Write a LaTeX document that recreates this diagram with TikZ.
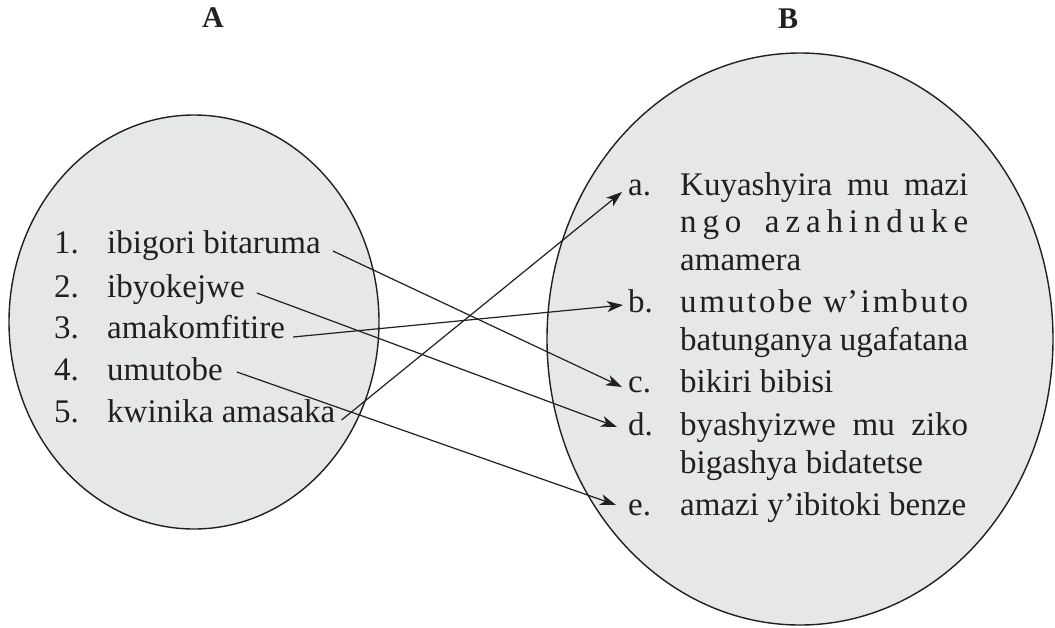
\documentclass[tikz,border=0pt]{standalone}
\usepackage{fontspec}
\setmainfont{Liberation Serif}
\usetikzlibrary{arrows.meta}
\definecolor{fillgray}{HTML}{E6E7E8}
\definecolor{ink}{HTML}{231F20}
\begin{document}
\begin{tikzpicture}[x=1pt,y=-1pt,
  setshape/.style={fill=fillgray,draw=ink,line width=1.4pt},
  item/.style={anchor=base west,inner sep=0pt,font=\fontsize{33}{39}\selectfont,text=ink},
  head/.style={anchor=center,inner sep=0pt,font=\fontsize{30}{36}\selectfont\bfseries,text=ink},
  link/.style={draw=ink,line width=1.2pt,-{Stealth[length=16pt,width=11pt,inset=4.5pt]}}]
\useasboundingbox (0,0) rectangle (1055,627);
% sets
\path[setshape] (194,322) ellipse [x radius=185pt, y radius=207pt];
\path[setshape] (800,339) ellipse [x radius=253pt, y radius=286pt];
% headings
\node[head] (hA) at (213,18) {A};
\node[head] (hB) at (788,19) {B};
% column A
\node[item] (n1) at (54,253) {1.};
\node[item] (t1) at (107,253) {ibigori bitaruma};
\node[item] (n2) at (54,297) {2.};
\node[item] (t2) at (107,297) {ibyokejwe};
\node[item] (n3) at (54,338) {3.};
\node[item] (t3) at (107,338) {amakomfitire};
\node[item] (n4) at (54,380) {4.};
\node[item] (t4) at (107,380) {umutobe};
\node[item] (n5) at (54,422) {5.};
\node[item] (t5) at (107,422) {kwinika amasaka};
% column B
\node[item] (la) at (628,195) {a.};
\node[item] (ta1) at (680,195) {\makebox[288pt][s]{Kuyashyira mu mazi}};
\node[item] (ta2) at (680,232) {\makebox[288pt][s]{n\hfil g\hfil o\hfil\hfil\hfil\hfil a\hfil z\hfil a\hfil h\hfil i\hfil n\hfil d\hfil u\hfil k\hfil e}};
\node[item] (ta3) at (680,270) {amamera};
\node[item] (lb) at (628,312) {b.};
\node[item] (tb1) at (680,312) {\makebox[288pt][s]{u\hfil m\hfil u\hfil t\hfil o\hfil b\hfil e\hfil\hfil\hfil\hfil w’\hfil i\hfil m\hfil b\hfil u\hfil t\hfil o}};
\node[item] (tb2) at (680,350) {\makebox[288pt][s]{batunganya ugafatana}};
\node[item] (lc) at (628,392) {c.};
\node[item] (tc) at (680,392) {bikiri bibisi};
\node[item] (ld) at (628,435) {d.};
\node[item] (td1) at (680,435) {\makebox[288pt][s]{byashyizwe mu ziko}};
\node[item] (td2) at (680,473) {bigashya bidatetse};
\node[item] (le) at (628,515) {e.};
\node[item] (te) at (680,515) {amazi y’ibitoki benze};
% matches
\draw[link] ([xshift=12pt,yshift=2pt]t1.base east) -- ([xshift=-6pt,yshift=5pt]lc.base west);
\draw[link] ([xshift=12pt,yshift=4pt]t2.base east) -- ([xshift=-11pt,yshift=8pt]ld.base west);
\draw[link] ([xshift=8pt,yshift=1pt]t3.base east) -- ([xshift=-5pt,yshift=7pt]lb.base west);
\draw[link] ([xshift=14pt,yshift=8pt]t4.base east) -- ([xshift=-12pt,yshift=10pt]le.base west);
\draw[link] ([xshift=6pt,yshift=2pt]t5.base east) -- ([xshift=-6pt,yshift=3pt]la.base west);
\end{tikzpicture}
\end{document}
